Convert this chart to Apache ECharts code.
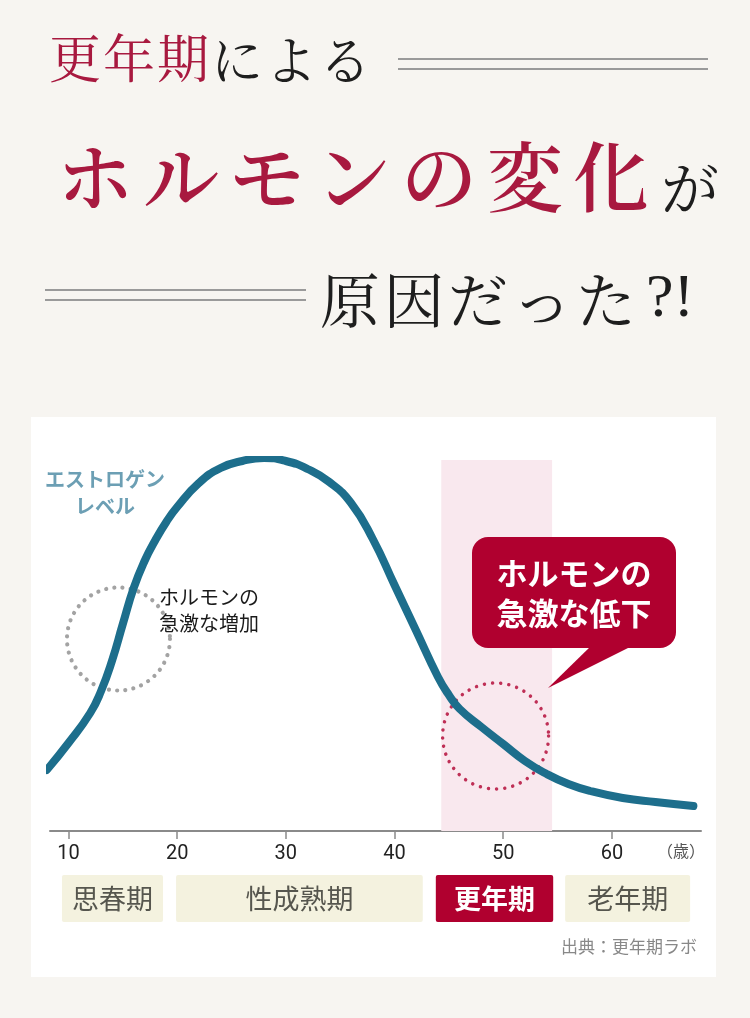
<!DOCTYPE html>
<html><head><meta charset="utf-8">
<script src="https://cdn.jsdelivr.net/npm/echarts@6/dist/echarts.min.js"></script>
<style>html,body{margin:0;padding:0;background:#f7f5f1}#c{width:750px;height:1018px}</style>
</head><body><div id="c"></div>
<script>
// ---- data ----
const ages   = [8.0, 10, 12, 13, 14, 15, 16, 17, 18, 19, 20, 22, 24, 26, 28, 30, 32, 34, 36, 38, 40, 42, 44, 45, 46, 48, 50, 52, 54, 56, 58, 61, 64, 67.5];
const levels = [61, 88, 118, 140, 170, 207, 243, 270, 291, 309, 324, 348, 363, 370, 373, 370, 362, 349, 328, 292, 246, 200, 154, 136, 122, 104, 87, 70, 57, 47, 40, 33, 29, 25];
const tickAges = [10, 20, 30, 40, 50, 60];
const stageNames = ['思春期', '性成熟期', '更年期', '老年期'];
const stageStart = [9.4, 19.9, 43.8, 55.7];
const stageEnd   = [18.7, 42.6, 54.6, 67.2];
const highlightStage = '更年期';
const bandRange = [44.3, 54.5];
const riseCircle = [14.6, 192];
const fallCircle = [49.3, 95];

const JP = '"Noto Serif CJK JP","Noto Sans CJK JP",serif';
const JPS = '"Noto Sans CJK JP",sans-serif';
const RED = '#a8193f';
const DARK = '#1e1e1e';

function spaced(str, w, size, color, weight) {
  const rich = {c: {width: w, align: 'center', fontSize: size, fill: color, fontFamily: JP, fontWeight: weight || 'normal'}};
  return {text: Array.from(str).map(ch => '{c|' + ch + '}').join(''), rich, fill: color};
}

const chart = echarts.init(document.getElementById('c'), null, {renderer: 'canvas', width: 750, height: 1018});

const t1a = spaced('更年期', 54, 52, RED);
const t1b = spaced('による', 54, 52, DARK);
const t2a = spaced('ホルモンの変化', 86, 76, RED, 600);
const t3a = spaced('原因だった', 64, 60, DARK);

const graphics = [
  {type: 'rect', z: -10, shape: {x: 31, y: 417, width: 685, height: 560}, style: {fill: '#ffffff'}},
  // title line 1
  {type: 'text', z: 100, style: Object.assign({x: 48, y: 58, verticalAlign: 'middle'}, t1a)},
  {type: 'text', z: 100, style: Object.assign({x: 210, y: 60, verticalAlign: 'middle'}, t1b)},
  {type: 'line', z: 100, shape: {x1: 398, y1: 59, x2: 708, y2: 59}, style: {stroke: '#9a9a9a', lineWidth: 2}},
  {type: 'line', z: 100, shape: {x1: 398, y1: 69, x2: 708, y2: 69}, style: {stroke: '#9a9a9a', lineWidth: 2}},
  // title line 2
  {type: 'text', z: 100, style: Object.assign({x: 52, y: 177, verticalAlign: 'middle'}, t2a)},
  {type: 'text', z: 100, style: {x: 690, y: 188, text: 'が', align: 'center', verticalAlign: 'middle', fontSize: 58, fontFamily: JP, fill: DARK}},
  // title line 3
  {type: 'line', z: 100, shape: {x1: 45, y1: 290, x2: 306, y2: 290}, style: {stroke: '#9a9a9a', lineWidth: 2}},
  {type: 'line', z: 100, shape: {x1: 45, y1: 300, x2: 306, y2: 300}, style: {stroke: '#9a9a9a', lineWidth: 2}},
  {type: 'text', z: 100, style: Object.assign({x: 318, y: 300, verticalAlign: 'middle'}, t3a)},
  {type: 'text', z: 100, style: {x: 670, y: 300, text: '?!', align: 'center', verticalAlign: 'middle', fontSize: 62, fontFamily: '"Liberation Serif",serif', fill: DARK}},
  // annotations
  {type: 'text', z: 100, style: {x: 105, y: 493, text: 'エストロゲン\nレベル', align: 'center', verticalAlign: 'middle', fontSize: 20, fontWeight: 'bold', lineHeight: 27, fontFamily: JPS, fill: '#6c9fb4'}},
  {type: 'text', z: 100, style: {x: 159, y: 610, text: 'ホルモンの\n急激な増加', align: 'left', verticalAlign: 'middle', fontSize: 20, lineHeight: 26, fontFamily: JPS, fill: '#1a1a1a'}},
  {type: 'rect', z: 100, shape: {x: 472, y: 537, width: 204, height: 111, r: 16}, style: {fill: '#b0002f'}},
  {type: 'polygon', z: 100, shape: {points: [[592, 645], [634, 645], [548, 688]]}, style: {fill: '#b0002f'}},
  {type: 'text', z: 101, style: {x: 574, y: 593, text: 'ホルモンの\n急激な低下', align: 'center', verticalAlign: 'middle', fontSize: 31, fontWeight: 'bold', lineHeight: 40, fontFamily: JPS, fill: '#ffffff'}},
  {type: 'text', z: 100, style: {x: 681, y: 851, text: '（歳）', align: 'center', verticalAlign: 'middle', fontSize: 16, fontFamily: JPS, fill: '#555'}},
  {type: 'text', z: 100, style: {x: 697, y: 947, text: '出典：更年期ラボ', align: 'right', verticalAlign: 'middle', fontSize: 17, fontFamily: JPS, fill: '#888'}}
];

chart.setOption({
  backgroundColor: '#f7f5f1',
  animation: false,
  grid: {left: 50, right: 49, top: 460, bottom: 187},
  xAxis: {
    type: 'value', min: 8.3, max: 68.2,
    splitLine: {show: false},
    axisLine: {show: true, lineStyle: {color: '#8a8a8a', width: 2}},
    axisTick: {show: true, customValues: tickAges, length: 8, lineStyle: {color: '#8a8a8a', width: 1.5}},
    axisLabel: {customValues: tickAges, margin: 13, fontSize: 20, color: '#222', fontFamily: 'Roboto, sans-serif'}
  },
  yAxis: {type: 'value', min: 0, max: 371, show: false},
  graphic: graphics,
  series: [
    {
      type: 'scatter', silent: true, z: 1,
      symbol: 'circle',
      data: [{value: riseCircle, symbolSize: 103, itemStyle: {borderColor: '#8c8c8c'}},
             {value: fallCircle, symbolSize: 106, itemStyle: {borderColor: '#b0002f', borderWidth: 3.5}}],
      itemStyle: {color: 'rgba(0,0,0,0)', borderWidth: 4.2, borderType: [0.01, 8.2], borderCap: 'round'}
    },
    {
      type: 'line', z: 2, silent: true,
      data: ages.map((a, i) => [a, levels[i]]),
      smooth: 0.5, symbol: 'none',
      lineStyle: {color: '#1d6e8c', width: 8, cap: 'round', join: 'round'},
      markArea: {silent: true, itemStyle: {color: '#f9e8ee'},
        data: [[{xAxis: bandRange[0], yAxis: 0}, {xAxis: bandRange[1], yAxis: 371}]]}
    },
    {
      type: 'custom', silent: true, clip: false,
      data: stageNames.map((n, i) => [stageStart[i], stageEnd[i], 0, n]),
      encode: {x: [0, 1], y: 2},
      renderItem: function (params, api) {
        const x0 = api.coord([api.value(0), 0])[0];
        const x1 = api.coord([api.value(1), 0])[0];
        const name = stageNames[params.dataIndex];
        const hl = name === highlightStage;
        return {
          type: 'group',
          children: [
            {type: 'rect', shape: {x: x0, y: 875, width: x1 - x0, height: 47, r: 2}, style: {fill: hl ? '#b0002f' : '#f4f2df'}},
            {type: 'text', style: {x: (x0 + x1) / 2, y: 899, text: name, align: 'center', verticalAlign: 'middle',
              fontSize: 27, fontWeight: hl ? 'bold' : 'normal', fontFamily: JPS, fill: hl ? '#ffffff' : '#56564e'}}
          ]
        };
      }
    }
  ]
});
</script>
</body></html>
